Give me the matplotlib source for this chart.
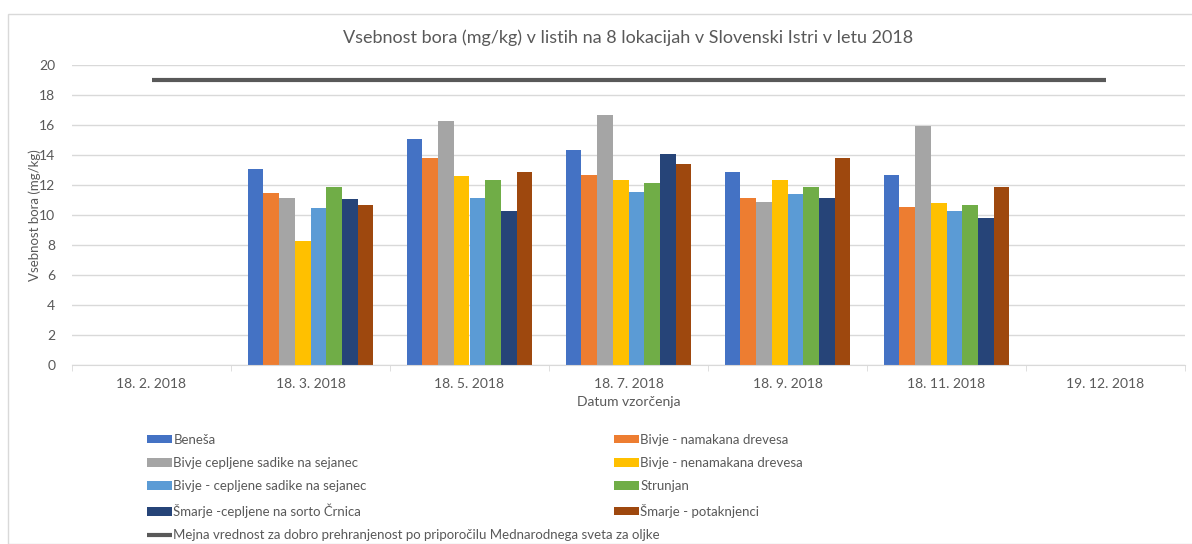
import numpy as np
import matplotlib.pyplot as plt
from matplotlib.patches import Rectangle

plt.rcParams['font.family'] = ['Lato', 'DejaVu Sans']

dates = ['18. 2. 2018', '18. 3. 2018', '18. 5. 2018', '18. 7. 2018',
         '18. 9. 2018', '18. 11. 2018', '19. 12. 2018']

labels = ['Beneša', 'Bivje - namakana drevesa', 'Bivje cepljene sadike na sejanec',
          'Bivje - nenamakana drevesa', 'Bivje - cepljene sadike na sejanec',
          'Strunjan', 'Šmarje -cepljene na sorto Črnica', 'Šmarje - potaknjenci']
colors = ['#4472c4', '#ed7d31', '#a5a5a5', '#ffc000', '#5b9bd5', '#70ad47',
          '#264478', '#9e480e']

nan = np.nan
# boron content per location (rows) and sampling date (columns)
benesa = [nan, 13.1, 15.1, 14.35, 12.9, 12.7, nan]
bivje_nam = [nan, 11.5, 13.8, 12.7, 11.15, 10.55, nan]
bivje_cep = [nan, 11.15, 16.3, 16.7, 10.85, 15.95, nan]
bivje_nenam = [nan, 8.3, 12.6, 12.35, 12.35, 10.8, nan]
bivje_cep2 = [nan, 10.45, 11.15, 11.55, 11.4, 10.3, nan]
strunjan = [nan, 11.9, 12.35, 12.15, 11.85, 10.65, nan]
smarje_cep = [nan, 11.05, 10.25, 14.05, 11.15, 9.8, nan]
smarje_pot = [nan, 10.65, 12.85, 13.4, 13.8, 11.85, nan]
series = [benesa, bivje_nam, bivje_cep, bivje_nenam, bivje_cep2, strunjan,
          smarje_cep, smarje_pot]

limit = [19] * len(dates)
limit_label = 'Mejna vrednost za dobro prehranjenost po priporočilu Mednarodnega sveta za oljke'

fig = plt.figure(figsize=(11.92, 5.44), dpi=100)
fig.patches.append(Rectangle((8 / 1192, 0), 1, 1 - 14 / 544, transform=fig.transFigure,
                             fill=False, edgecolor='#d9d9d9', lw=1))
ax = fig.add_axes([72 / 1192, 1 - 365 / 544, 1113 / 1192, 300 / 544])

x = np.arange(len(dates))
w = 0.099
bars = []
for i, (vals, c, lab) in enumerate(zip(series, colors, labels)):
    b = ax.bar(x + (i - 3.5) * w, vals, w, color=c, label=lab, zorder=2)
    bars.append(b)
line, = ax.plot(x, limit, color='#595959', lw=3, label=limit_label, zorder=3,
                solid_capstyle='butt')

ax.set_xlim(-0.5, len(dates) - 0.5)
ax.set_ylim(0, 20)
ax.set_yticks(range(0, 21, 2))
ax.set_xticks(x)
ax.set_xticklabels(dates)
ax.set_xticks(np.arange(-0.5, len(dates) + 0.5), minor=True)
ax.tick_params(axis='x', which='major', length=0, pad=9)
ax.tick_params(axis='x', which='minor', length=4, color='#d9d9d9')
ax.tick_params(axis='y', length=0, pad=12)
ax.tick_params(labelsize=10, labelcolor='#595959')
ax.grid(axis='y', color='#d9d9d9', lw=1, zorder=0)
for s in ['top', 'right', 'left']:
    ax.spines[s].set_visible(False)
ax.spines['bottom'].set_color('#d9d9d9')

ax.set_title('Vsebnost bora (mg/kg) v listih na 8 lokacijah v Slovenski Istri v letu 2018',
             fontsize=13, color='#595959', pad=16)
ax.set_xlabel('Datum vzorčenja', fontsize=10, color='#595959', labelpad=5)
ax.set_ylabel('Vsebnost bora (mg/kg)', fontsize=9.5, color='#595959')
ax.yaxis.set_label_coords(-0.028, 0.5)

leg_kw = dict(frameon=False, fontsize=9.5, labelcolor='#595959', handlelength=1.9,
              handleheight=0.6, handletextpad=0.1, labelspacing=0.85, loc='upper left')
fig.legend([bars[0], bars[2], bars[4], bars[6], line],
           [labels[0], labels[2], labels[4], labels[6], limit_label],
           bbox_to_anchor=(135 / 1192, 1 - 422 / 544), **leg_kw)
fig.legend([bars[1], bars[3], bars[5], bars[7]],
           [labels[1], labels[3], labels[5], labels[7]],
           bbox_to_anchor=(602 / 1192, 1 - 422 / 544), **leg_kw)

fig.savefig('out.png', dpi=100)
